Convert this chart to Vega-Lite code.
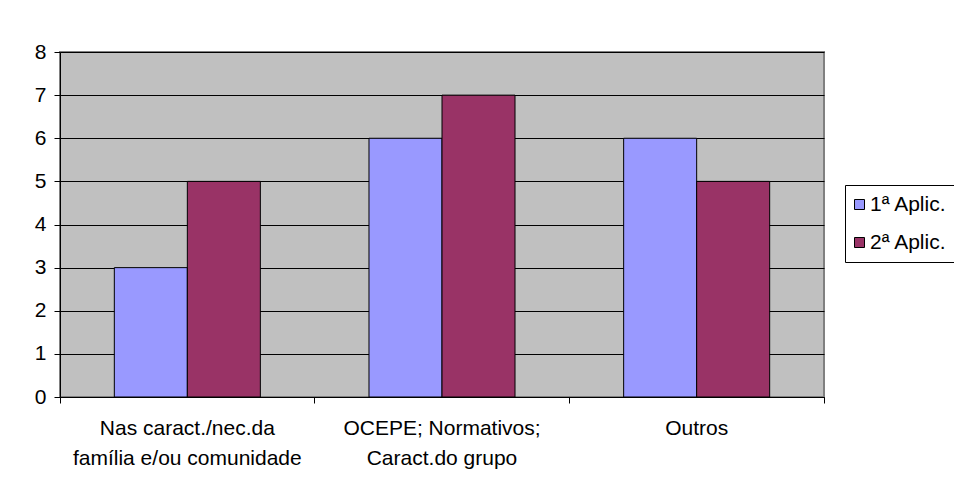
{
  "$schema": "https://vega.github.io/schema/vega-lite/v6.json",
  "width": 764,
  "height": 345,
  "autosize": {"type": "none"},
  "padding": {"left": 60, "top": 52, "right": 130, "bottom": 97},
  "background": "white",
  "data": {
    "values": [
      {"categoria": "Nas caract./nec.da|família e/ou comunidade", "ordem": 1, "aplic": "1ª Aplic.", "valor": 3},
      {"categoria": "Nas caract./nec.da|família e/ou comunidade", "ordem": 1, "aplic": "2ª Aplic.", "valor": 5},
      {"categoria": "OCEPE; Normativos;|Caract.do grupo", "ordem": 2, "aplic": "1ª Aplic.", "valor": 6},
      {"categoria": "OCEPE; Normativos;|Caract.do grupo", "ordem": 2, "aplic": "2ª Aplic.", "valor": 7},
      {"categoria": "Outros", "ordem": 3, "aplic": "1ª Aplic.", "valor": 6},
      {"categoria": "Outros", "ordem": 3, "aplic": "2ª Aplic.", "valor": 5}
    ]
  },
  "mark": {"type": "bar", "stroke": "black", "strokeWidth": 1},
  "encoding": {
    "x": {
      "field": "categoria",
      "type": "nominal",
      "sort": {"field": "ordem"},
      "scale": {"paddingInner": 0, "paddingOuter": 0},
      "axis": {
        "title": null,
        "labelAngle": 0,
        "labelExpr": "split(datum.label, '|')",
        "labelFont": "Liberation Sans",
        "labelFontSize": 21,
        "labelColor": "black",
        "labelLineHeight": 30,
        "labelPadding": 14,
        "labelLimit": 0,
        "bandPosition": 1,
        "tickExtra": true,
        "tickSize": 6,
        "tickColor": "black",
        "domainColor": "black",
        "labelBound": false,
        "labelOverlap": false
      }
    },
    "xOffset": {
      "field": "aplic",
      "type": "nominal",
      "scale": {"paddingInner": 0, "paddingOuter": 0.744}
    },
    "y": {
      "field": "valor",
      "type": "quantitative",
      "scale": {"domain": [0, 8]},
      "axis": {
        "title": null,
        "values": [0, 1, 2, 3, 4, 5, 6, 7, 8],
        "labelOverlap": false,
        "labelFont": "Liberation Sans",
        "labelFontSize": 21,
        "labelColor": "black",
        "labelPadding": 8,
        "tickSize": 6,
        "tickColor": "black",
        "domainColor": "black",
        "grid": true,
        "gridColor": "black",
        "gridWidth": 1
      }
    },
    "color": {
      "field": "aplic",
      "type": "nominal",
      "scale": {"domain": ["1ª Aplic.", "2ª Aplic."], "range": ["#9999FF", "#993366"]},
      "legend": {
        "title": null,
        "orient": "none",
        "legendX": 785,
        "legendY": 133,
        "strokeColor": "black",
        "fillColor": "white",
        "padding": 9,
        "rowPadding": 16,
        "symbolType": "square",
        "symbolSize": 100,
        "symbolOffset": -5,
        "symbolStrokeColor": "black",
        "symbolStrokeWidth": 1,
        "labelFont": "Liberation Sans",
        "labelFontSize": 21,
        "labelColor": "black",
        "labelOffset": 0
      }
    }
  },
  "config": {
    "view": {"fill": "#C0C0C0", "stroke": "#808080", "strokeWidth": 2}
  }
}
